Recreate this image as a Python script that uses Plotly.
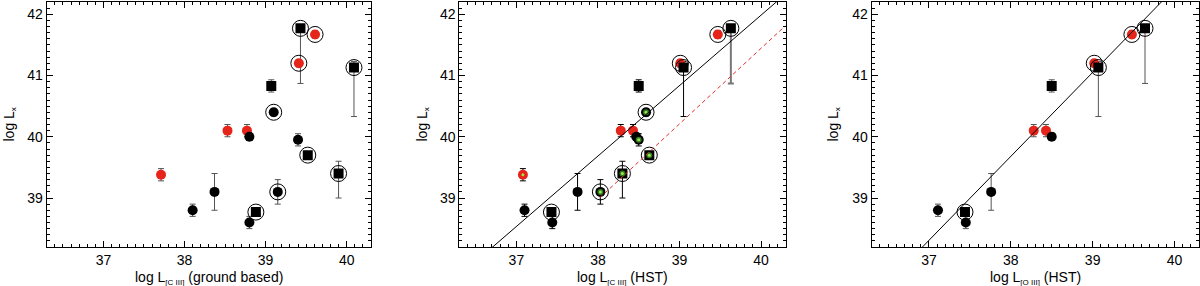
import numpy as np
import plotly.graph_objects as go

# ---------------- data ----------------
obj_ids = list("ABCDEFGHIJKLMNOPQR")
log_lx = [39.38, 38.80, 39.10, 40.10, 40.10, 40.00, 38.60, 38.77, 40.83,
          40.40, 39.10, 39.95, 41.20, 41.67, 39.70, 39.40, 41.13, 41.77]
err_plus = [0.10, 0.10, 0.30, 0.10, 0.10, 0.06, 0.10, 0.06, 0.10,
            0.06, 0.20, 0.10, 0.06, 0.06, 0.06, 0.20, 0.10, 0.05]
err_minus = [0.10, 0.10, 0.30, 0.10, 0.10, 0.06, 0.10, 0.06, 0.10,
             0.06, 0.20, 0.10, 0.06, 0.06, 0.06, 0.40, 0.80, 0.90]
symbol_kind = ["circle", "circle", "circle", "circle", "circle", "circle", "circle", "square", "square",
               "circle", "circle", "circle", "circle", "circle", "square", "square", "square", "square"]
is_red = [True, False, False, True, True, False, False, False, False,
          False, False, False, True, True, False, False, False, False]
ringed = [False, False, False, False, False, False, False, True, False,
          True, True, False, True, True, True, True, True, True]
# x values per panel (None = not in that panel)
x_ground = [37.71, 38.10, 38.37, 38.53, 38.77, 38.80, 38.80, 38.88, 39.07,
            39.10, 39.15, 39.40, 39.41, 39.61, 39.52, 39.90, 40.09, 39.43]
x_hst_c = [37.08, 37.10, 37.75, 38.28, 38.43, 38.47, 37.44, 37.43, 38.50,
           38.59, 38.03, 38.50, 39.01, 39.47, 38.63, 38.30, 39.05, 39.63]
x_hst_o = [None, 37.11, 37.76, 38.28, 38.43, 38.50, 37.45, 37.44, 38.50,
           None, None, None, 39.02, 39.48, None, None, 39.07, 39.64]
green_hst_c = [True, False, False, False, False, False, False, False, False,
               True, True, True, False, False, True, True, False, False]

# fit lines (slope, point)
fit2_slope, fit2_x0, fit2_y0 = 1.15, 37.90, 39.57
dash2_slope, dash2_x0, dash2_y0 = 1.234, 38.02, 39.00
fit3_slope, fit3_x0, fit3_y0 = 1.37, 36.92, 38.20

x_tick_vals = [37, 38, 39, 40]
y_tick_vals = [39, 40, 41, 42]
x_range = [36.3, 40.3]
y_range = [38.2, 42.2]

RED = "#e5251b"
FONT = "Liberation Sans, Arial, Helvetica, sans-serif"

fig = go.Figure()

domains_x = [[46.7 / 1200, 371 / 1200], [459.3 / 1200, 785.5 / 1200], [871.7 / 1200, 1199 / 1200]]
dom_y = [39 / 286, 284 / 286]


def add_panel(idx, xs, green=None, errcolor="#555555", errwidth=1.0, special_err=None):
    xa = "x" if idx == 1 else f"x{idx}"
    ya = "y" if idx == 1 else f"y{idx}"
    sel = [i for i, v in enumerate(xs) if v is not None]
    # error bars (invisible markers)
    for i in sel:
        ec, ew = errcolor, errwidth
        if special_err and obj_ids[i] in special_err:
            ec, ew = special_err[obj_ids[i]]
        fig.add_trace(go.Scatter(
            x=[xs[i]], y=[log_lx[i]], mode="markers", xaxis=xa, yaxis=ya,
            marker=dict(size=1, color="rgba(0,0,0,0)"),
            error_y=dict(type="data", array=[err_plus[i]], arrayminus=[err_minus[i]],
                         color=ec, thickness=ew, width=3),
            showlegend=False, hoverinfo="skip"))
    # red circles
    r = [i for i in sel if is_red[i]]
    fig.add_trace(go.Scatter(
        x=[xs[i] for i in r], y=[log_lx[i] for i in r], mode="markers", xaxis=xa, yaxis=ya,
        marker=dict(symbol="circle", size=10, color=RED, line=dict(width=0)),
        showlegend=False))
    # black circles
    b = [i for i in sel if not is_red[i] and symbol_kind[i] == "circle"]
    fig.add_trace(go.Scatter(
        x=[xs[i] for i in b], y=[log_lx[i] for i in b], mode="markers", xaxis=xa, yaxis=ya,
        marker=dict(symbol="circle", size=10, color="black", line=dict(width=0)),
        showlegend=False))
    # black squares
    s = [i for i in sel if symbol_kind[i] == "square"]
    fig.add_trace(go.Scatter(
        x=[xs[i] for i in s], y=[log_lx[i] for i in s], mode="markers", xaxis=xa, yaxis=ya,
        marker=dict(symbol="square", size=10, color="black", line=dict(width=0)),
        showlegend=False))
    # green centres
    if green is not None:
        g = [i for i in sel if green[i]]
        gb = [i for i in g if not is_red[i]]
        fig.add_trace(go.Scatter(
            x=[xs[i] for i in gb], y=[log_lx[i] for i in gb], mode="markers", xaxis=xa, yaxis=ya,
            marker=dict(symbol="circle", size=6, color="#2f7a22", line=dict(width=0)),
            showlegend=False))
        fig.add_trace(go.Scatter(
            x=[xs[i] for i in g], y=[log_lx[i] for i in g], mode="markers", xaxis=xa, yaxis=ya,
            marker=dict(symbol="circle", size=3, color="#9be84a", line=dict(width=0)),
            showlegend=False))
    # rings
    o = [i for i in sel if ringed[i]]
    fig.add_trace(go.Scatter(
        x=[xs[i] for i in o], y=[log_lx[i] for i in o], mode="markers", xaxis=xa, yaxis=ya,
        marker=dict(symbol="circle-open", size=16, color="black", line=dict(width=1, color="black")),
        showlegend=False))


add_panel(1, x_ground)
add_panel(2, x_hst_c, green=green_hst_c, errcolor="black", errwidth=1.0,
          special_err={"R": ("#777777", 2.0)})
add_panel(3, x_hst_o)

# fit lines
lx = np.array(x_range)
fig.add_trace(go.Scatter(x=lx, y=fit2_y0 + fit2_slope * (lx - fit2_x0), mode="lines",
                         xaxis="x2", yaxis="y2", line=dict(color="black", width=1),
                         showlegend=False, hoverinfo="skip"))
dx = np.array([dash2_x0, x_range[1]])
fig.add_trace(go.Scatter(x=dx, y=dash2_y0 + dash2_slope * (dx - dash2_x0), mode="lines",
                         xaxis="x2", yaxis="y2", line=dict(color="#e0302a", width=1, dash="4px,3px"),
                         showlegend=False, hoverinfo="skip"))
fig.add_trace(go.Scatter(x=lx, y=fit3_y0 + fit3_slope * (lx - fit3_x0), mode="lines",
                         xaxis="x3", yaxis="y3", line=dict(color="black", width=1),
                         showlegend=False, hoverinfo="skip"))

axis_common = dict(showline=True, linecolor="black", linewidth=1, mirror="ticks",
                   ticks="inside", ticklen=6, tickwidth=1, tickcolor="black",
                   showgrid=False, zeroline=False,
                   tickfont=dict(family=FONT, size=14, color="black"),
                   minor=dict(ticks="inside", ticklen=3, dtick=0.1, tickcolor="black", showgrid=False))

layout = dict(width=1200, height=286, margin=dict(l=0, r=0, t=0, b=0),
              paper_bgcolor="white", plot_bgcolor="white", showlegend=False,
              font=dict(family=FONT, size=14, color="black"))
for k in range(1, 4):
    xk = "xaxis" if k == 1 else f"xaxis{k}"
    yk = "yaxis" if k == 1 else f"yaxis{k}"
    layout[xk] = dict(axis_common, domain=domains_x[k - 1], range=x_range, tickvals=x_tick_vals,
                      anchor="y" if k == 1 else f"y{k}")
    layout[yk] = dict(axis_common, domain=dom_y, range=y_range, tickvals=y_tick_vals,
                      anchor="x" if k == 1 else f"x{k}")
fig.update_layout(**layout)

sub = "<span style='font-size:8px'>{}</span>"
x_titles = ["log L<sub>" + sub.format("[C III]") + "</sub> (ground based)",
            "log L<sub>" + sub.format("[C III]") + "</sub> (HST)",
            "log L<sub>" + sub.format("[O III]") + "</sub> (HST)"]
for k in range(3):
    cx = (domains_x[k][0] + domains_x[k][1]) / 2
    fig.add_annotation(x=cx, y=8 / 286, xref="paper", yref="paper", text=x_titles[k],
                       showarrow=False, xanchor="center", yanchor="middle",
                       font=dict(family=FONT, size=14, color="black"))
y_title_x = [9, 422, 833]
for k in range(3):
    fig.add_annotation(x=y_title_x[k] / 1200, y=(dom_y[0] + dom_y[1]) / 2, xref="paper", yref="paper",
                       text="log L<sub>" + sub.format("x") + "</sub>", textangle=-90,
                       showarrow=False, xanchor="center", yanchor="middle",
                       font=dict(family=FONT, size=14, color="black"))

fig.write_html("out.html", config={"displayModeBar": False},
               post_script="document.body.style.margin='0';document.body.style.overflow='hidden';")
